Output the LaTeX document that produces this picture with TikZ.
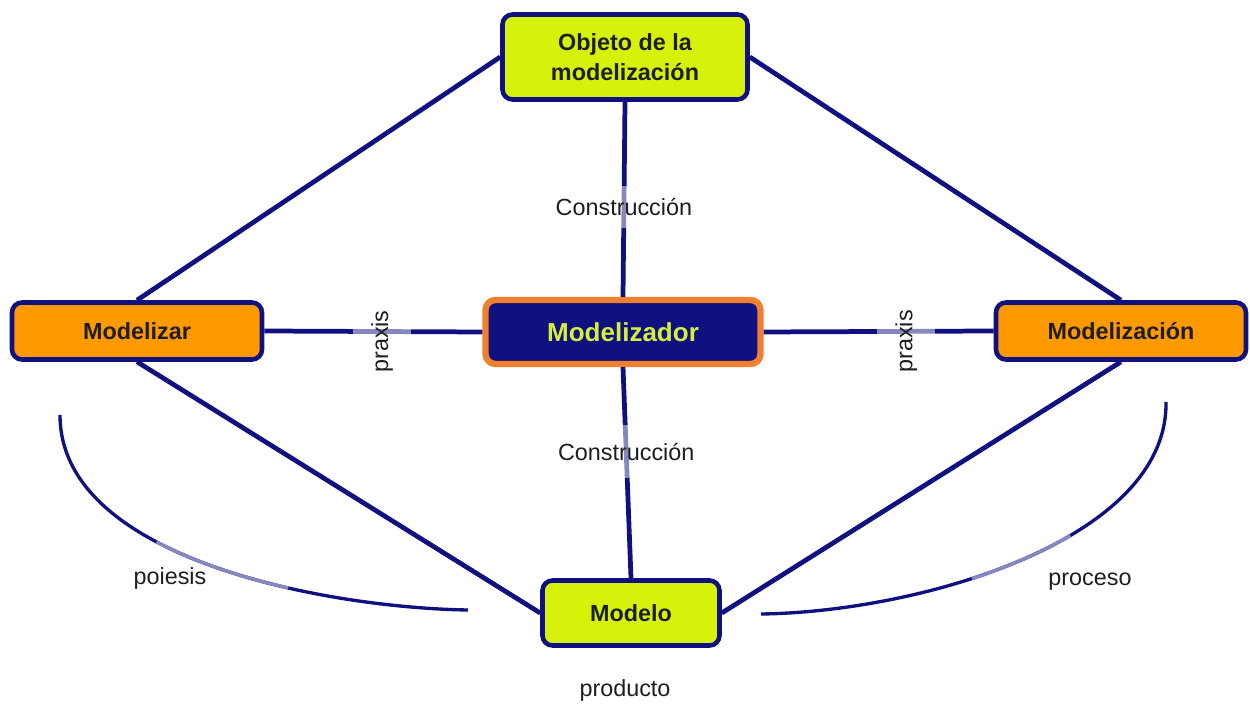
\documentclass[tikz,border=0pt]{standalone}
\usepackage{fontspec}
\setmainfont{Liberation Sans}

\definecolor{navy}{RGB}{16,16,128}
\definecolor{limec}{RGB}{214,242,10}
\definecolor{orangec}{RGB}{255,153,0}
\definecolor{rimc}{RGB}{240,128,48}
\definecolor{limetext}{RGB}{212,240,60}
\definecolor{inkc}{RGB}{30,30,30}
\definecolor{litec}{RGB}{136,136,192}

\tikzstyle{box}  = [rectangle, rounded corners=0.2cm, draw=navy, line width=2.6pt, text centered, align=center, text=inkc, font=\bfseries\fontsize{13.3}{17}\selectfont]
\tikzstyle{lime} = [box, fill=limec]
\tikzstyle{orng} = [box, fill=orangec, minimum width=5cm, minimum height=1.14cm]
\tikzstyle{hub}  = [box, fill=navy, draw=rimc, line width=3.6pt, text=limetext, minimum width=5.5cm, minimum height=1.28cm, font=\bfseries\fontsize{14.8}{17}\selectfont]
\tikzstyle{link} = [navy, line width=2.7pt]
\tikzstyle{arc}  = [navy, line width=1.9pt]
\tikzstyle{cut}  = [fill=white, fill opacity=0.5, text opacity=1, text=inkc, font=\fontsize{13.3}{16}\selectfont]
\tikzstyle{lbl}  = [text=inkc, font=\fontsize{13.3}{16}\selectfont]

\begin{document}
\begin{tikzpicture}
\useasboundingbox (0,0) rectangle (25,14.12);

%% Boxes
\node (obj) [lime, minimum width=4.9cm, minimum height=1.7cm] at (12.5,12.98) {Objeto de la\\modelizaci\'on};
\node (mzdor) [hub] at (12.46,7.48) {Modelizador};
\node (mzar) [orng] at (2.74,7.5) {Modelizar};
\node (mzcion) [orng] at (22.42,7.5) {Modelizaci\'on};
\node (modelo) [lime, minimum width=3.54cm, minimum height=1.3cm] at (12.62,1.86) {Modelo};

%% Links
\draw [link] (obj.west) -- (mzar.north);
\draw [link] (obj.east) -- (mzcion.north);
\draw [link] (mzar.south) -- (modelo.west);
\draw [link] (mzcion.south) -- (modelo.east);

\draw [link] (obj.south) -- node (con_top) [cut, pos=0.54, inner sep=0.24cm] {Construcci\'on} (mzdor.north);
\draw [link] (mzdor.south) -- node (con_bot) [cut, pos=0.40, inner sep=0.36cm] {Construcci\'on} (modelo.north);
\draw [link] (mzar.east) -- node (pra_lft) [cut, pos=0.54, rotate=90, xshift=-0.2cm, inner sep=0.36cm] {praxis} (mzdor.west);
\draw [link] (mzdor.east) -- node (pra_rgt) [cut, pos=0.62, rotate=90, xshift=-0.2cm, inner sep=0.36cm] {praxis} (mzcion.west);

%% Arcs
\coordinate (poi_a) at (1.2,5.82);
\coordinate (poi_b) at (9.36,1.92);
\coordinate (pro_a) at (23.32,6.08);
\coordinate (pro_b) at (15.22,1.84);

\draw [arc] (poi_a) .. controls (1.2,2.92) and (6.6,1.96) .. (poi_b);
\draw [arc, litec, dash pattern=on 0pt off 3.36cm on 2.8cm off 30cm] (poi_a) .. controls (1.2,2.92) and (6.6,1.96) .. (poi_b);
\draw [arc] (pro_a) .. controls (23.36,3.32) and (18.4,1.88) .. (pro_b);
\draw [arc, litec, dash pattern=on 0pt off 3.45cm on 2.15cm off 30cm] (pro_a) .. controls (23.36,3.32) and (18.4,1.88) .. (pro_b);

%% Names
\node (poiesis) [lbl] at (3.4,2.56) {poiesis};
\node (proceso) [lbl] at (21.8,2.48) {proceso};
\node (producto) [lbl] at (12.5,0.32) {producto};
\end{tikzpicture}
\end{document}
